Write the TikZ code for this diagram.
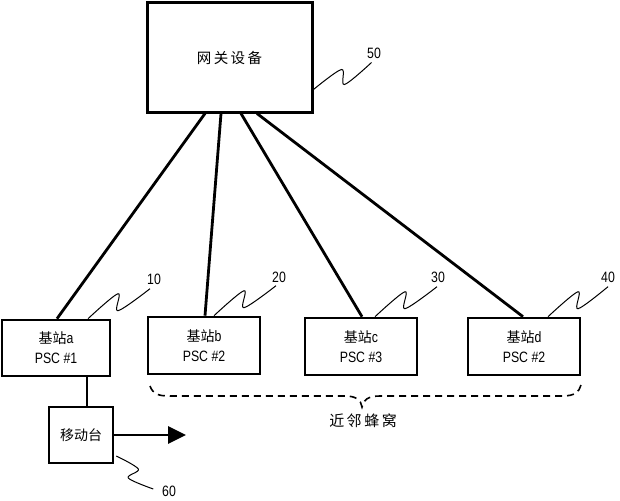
\documentclass[tikz,border=0pt]{standalone}
\usepackage{fontspec}
\setmainfont{Liberation Sans}[FakeStretch=0.82]
\newfontfamily\cjk{Noto Sans CJK SC}
\usetikzlibrary{arrows.meta,calc}
\begin{document}
\begin{tikzpicture}[x=1pt,y=-1pt,
  box/.style={draw,line width=2.6pt,fill=white,inner sep=0pt,align=center,font=\fontsize{15}{20}\selectfont},
  link/.style={line width=2.8pt},
  squig/.style={line width=1pt},
  lbl/.style={inner sep=0pt,font=\fontsize{15}{15}\selectfont}]
\useasboundingbox (0,0) rectangle (620,500);
\node[box,line width=3pt,minimum width=165pt,minimum height=109pt] (gw) at (229.5,57.5) {{\cjk\fontsize{14.5}{15}\selectfont 网\,关\,设\,备}};
\node[box,minimum width=108pt,minimum height=56pt] (a) at (56,348) {{\cjk\fontsize{14}{15}\selectfont 基站}a\\PSC \#1};
\node[box,minimum width=112pt,minimum height=57pt] (b) at (204,345.5) {{\cjk\fontsize{14}{15}\selectfont 基站}b\\PSC \#2};
\node[box,minimum width=112pt,minimum height=57pt] (c) at (361,346.5) {{\cjk\fontsize{14}{15}\selectfont 基站}c\\PSC \#3};
\node[box,minimum width=112pt,minimum height=57pt] (d) at (524,346.5) {{\cjk\fontsize{14}{15}\selectfont 基站}d\\PSC \#2};
\node[box,minimum width=64pt,minimum height=56pt] (ms) at (81,435) {{\cjk\fontsize{14}{15}\selectfont 移动台}};
\node[lbl] (l50) at (374,53) {50};
\node[lbl] (l10) at (154,279) {10};
\node[lbl] (l20) at (279,277) {20};
\node[lbl] (l30) at (438,277) {30};
\node[lbl] (l40) at (608,277) {40};
\node[lbl] (l60) at (169,491) {60};
\node[inner sep=0pt,font=\fontsize{15}{15}\selectfont] (nb) at (363,421) {{\cjk 近\,邻\,蜂\,窝}};
% links
\draw[link] ([xshift=-24.5pt]gw.south) -- ([xshift=1pt]a.north);
\draw[link] ([xshift=-8.5pt]gw.south) -- ([xshift=1pt]b.north);
\draw[link] ([xshift=11.5pt]gw.south) -- ([xshift=1pt]c.north);
\draw[link] ([xshift=27.5pt]gw.south) -- ([xshift=-1pt]d.north);
\draw[line width=1.6pt] ([xshift=31pt]a.south) -- ([xshift=6pt]ms.north);
\coordinate (tip) at (186,435);
\draw[line width=2.8pt,-{Triangle[length=18pt,width=17pt]}] (ms.east) -- (tip);
% squiggles
\coordinate (s50) at ([yshift=-32pt]gw.east);
\coordinate (s10) at ([xshift=32pt]a.north);
\coordinate (s20) at ([xshift=10pt]b.north);
\coordinate (s30) at ([xshift=14pt]c.north);
\coordinate (s40) at ([xshift=24pt]d.north);
\coordinate (s60) at ([xshift=2pt,yshift=-21pt]ms.east);
\draw[squig,shift={(s50)}] plot[smooth,tension=0.55] coordinates {(0,0) (28,-20) (31,-5) (58,-27)};
\draw[squig,shift={(s10)}] plot[smooth,tension=0.55] coordinates {(0,0) (30,-25) (30,-8) (62,-30)};
\draw[squig,shift={(s20)}] plot[smooth,tension=0.55] coordinates {(0,0) (30,-25) (30,-8) (62,-30)};
\draw[squig,shift={(s30)}] plot[smooth,tension=0.55] coordinates {(0,0) (30,-25) (30,-8) (62,-30)};
\draw[squig,shift={(s40)}] plot[smooth,tension=0.55] coordinates {(0,0) (30,-25) (30,-8) (60,-30)};
\draw[squig,shift={(s60)}] plot[smooth,tension=0.55] coordinates {(0,0) (22,13) (12,22) (37,33)};
% brace
\draw[line width=1.6pt,dash pattern=on 7pt off 5pt]
  (150,386) .. controls (153,394) and (158,396) .. (170,396)
  -- (345,396) .. controls (356,396) and (361,400) .. (362,407)
  .. controls (363,400) and (368,396) .. (380,396)
  -- (562,396) .. controls (575,396) and (579,392) .. (581,385);
\end{tikzpicture}
\end{document}
